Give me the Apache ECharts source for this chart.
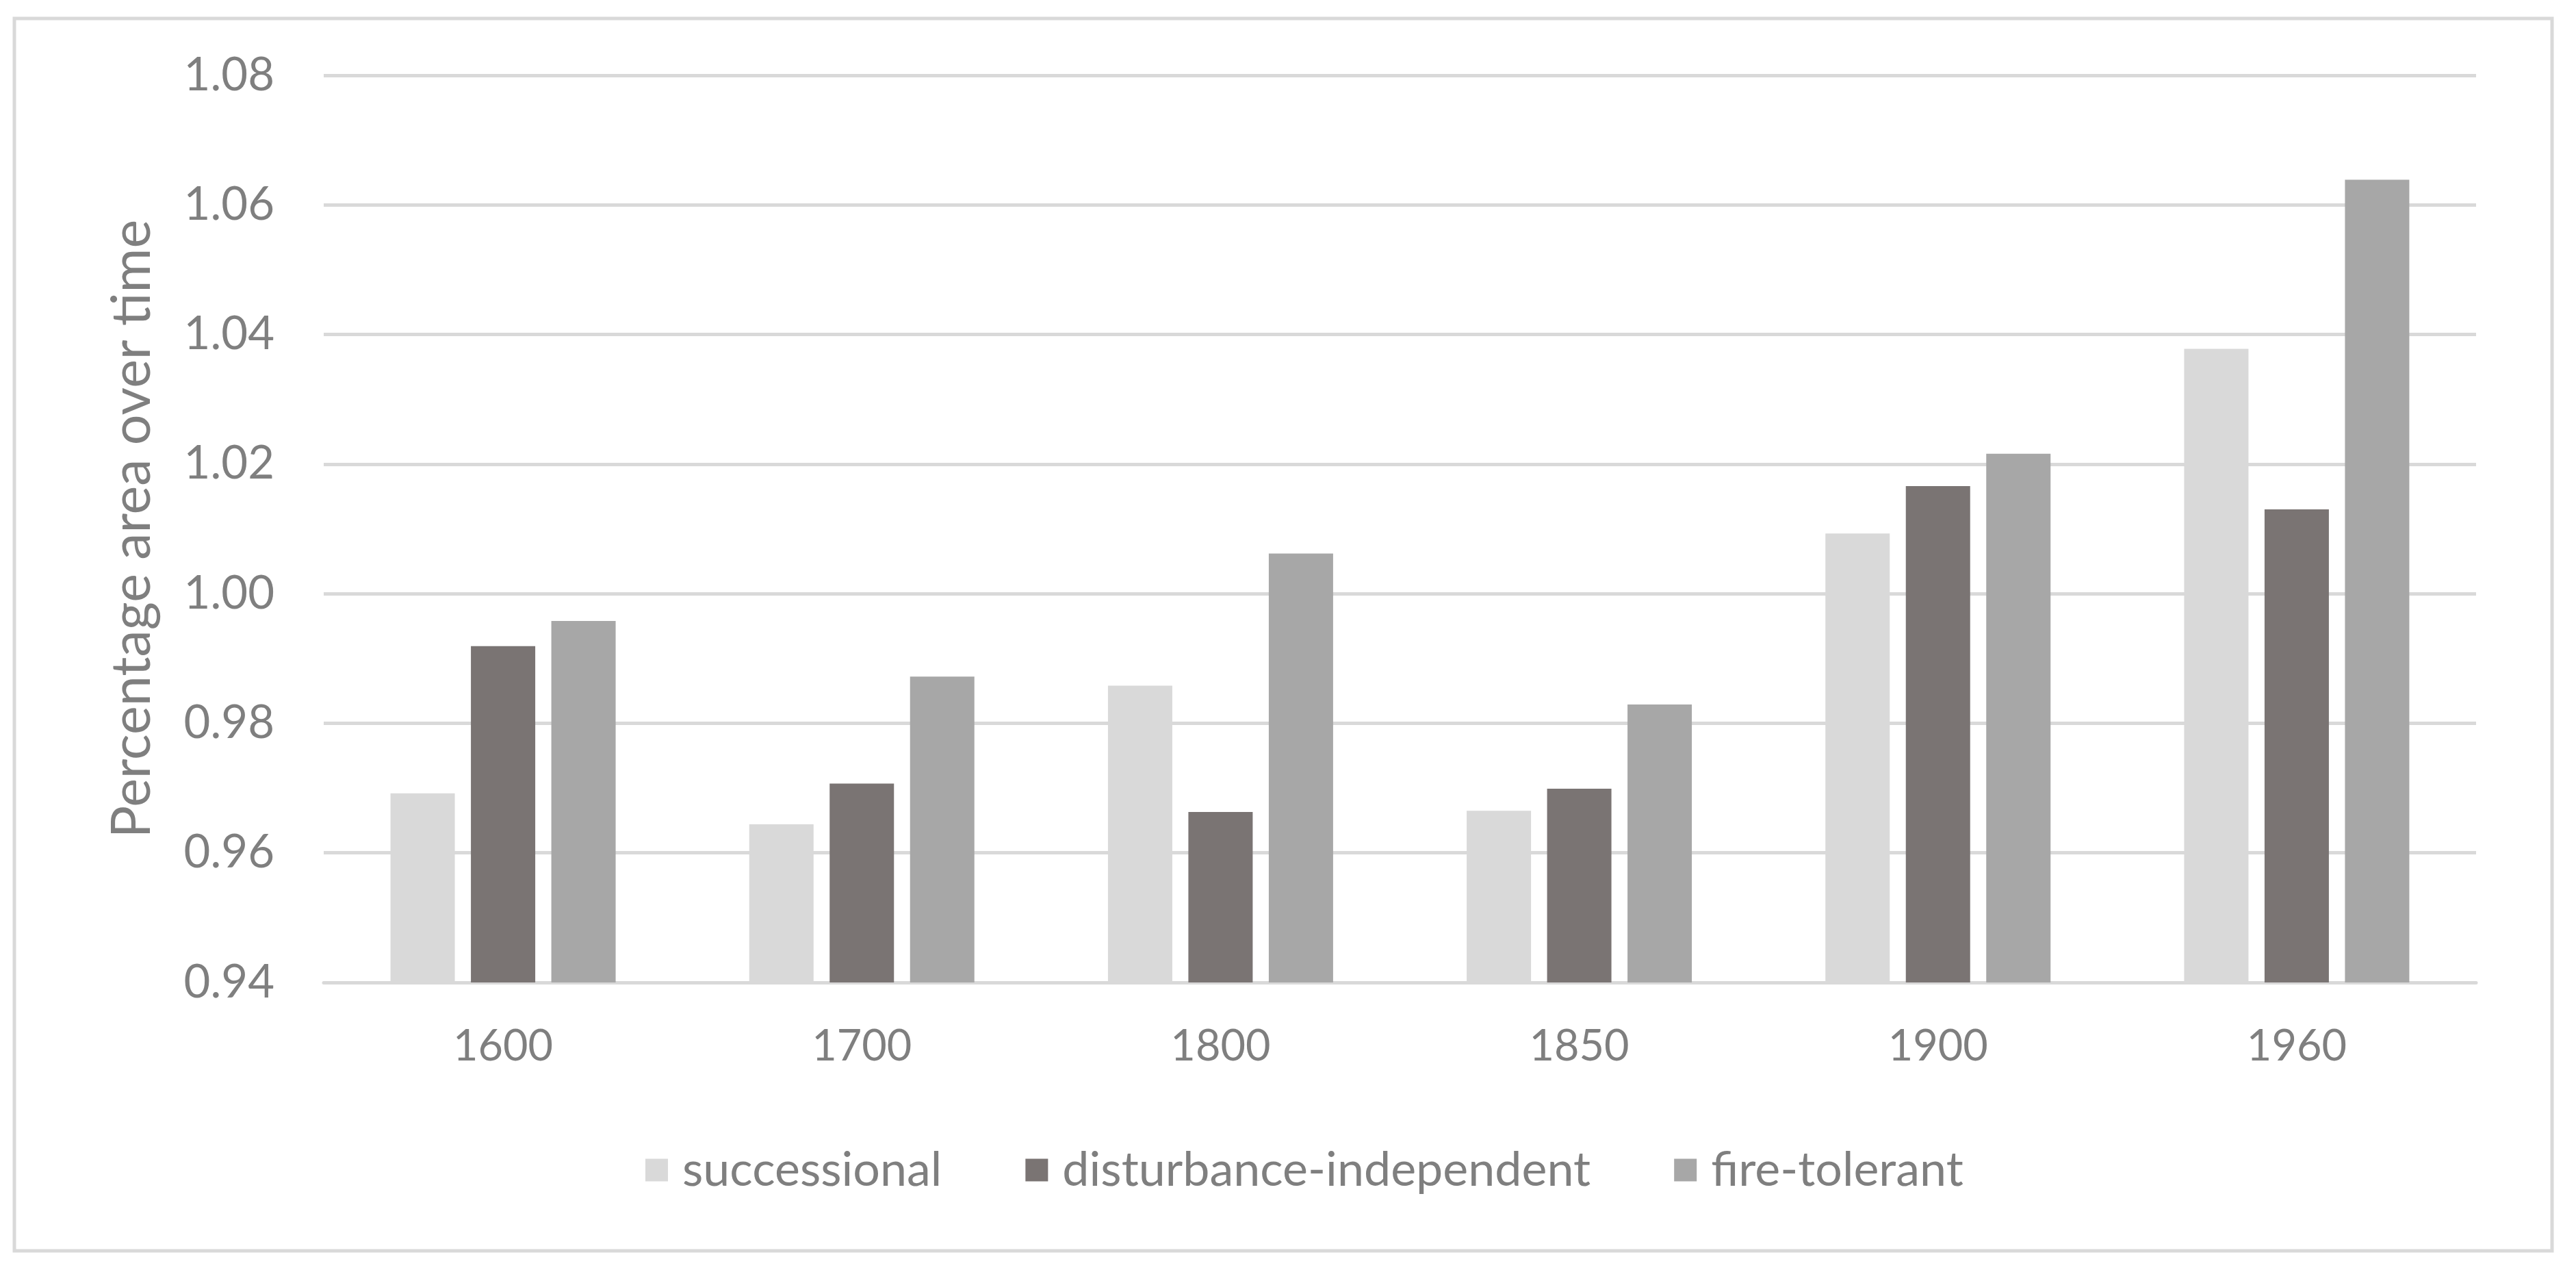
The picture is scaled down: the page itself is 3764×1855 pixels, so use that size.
<!DOCTYPE html>
<html>
<head>
<meta charset="utf-8">
<script src="https://cdn.jsdelivr.net/npm/echarts@6/dist/echarts.min.js"></script>
<style>
html,body{margin:0;padding:0;background:#fff;}
#chart{width:3764px;height:1855px;}
</style>
</head>
<body>
<div id="chart"></div>
<script>
const categories = ['1600', '1700', '1800', '1850', '1900', '1960'];
const successional = [0.9692, 0.9644, 0.9858, 0.9665, 1.0093, 1.0378];
const disturbanceIndependent = [0.9919, 0.9707, 0.9663, 0.9699, 1.0166, 1.0130];
const fireTolerant = [0.9958, 0.9872, 1.0062, 0.9829, 1.0216, 1.0639];
const seriesNames = ['successional', 'disturbance-independent', 'fire-tolerant'];
const yTicks = { min: 0.94, max: 1.08, interval: 0.02 };
const yTitle = 'Percentage area over time';

const FONT = 'Lato';
const TXT = '#7f7f7f';
const chart = echarts.init(document.getElementById('chart'), null, { renderer: 'canvas' });
chart.setOption({
  backgroundColor: '#ffffff',
  animation: false,
  graphic: [{
    type: 'rect',
    shape: { x: 21, y: 27, width: 3708, height: 1800 },
    style: { fill: 'none', stroke: '#d9d9d9', lineWidth: 5 },
    silent: true
  }],
  grid: { left: 473, right: 146, top: 110, bottom: 420, containLabel: false },
  legend: {
    data: seriesNames,
    bottom: 106,
    left: 938,
    itemWidth: 33,
    itemHeight: 33,
    itemGap: 122,
    icon: 'rect',
    textStyle: { fontFamily: FONT, fontSize: 70, color: TXT, padding: [0, 0, 0, 16] }
  },
  xAxis: {
    type: 'category',
    data: categories,
    axisLine: { show: true, lineStyle: { color: '#d9d9d9', width: 5 } },
    axisTick: { show: false },
    axisLabel: { fontFamily: FONT, fontSize: 63, color: TXT, margin: 62 }
  },
  yAxis: {
    type: 'value',
    min: yTicks.min,
    max: yTicks.max,
    interval: yTicks.interval,
    name: yTitle,
    nameLocation: 'middle',
    nameGap: 240,
    nameTextStyle: { fontFamily: FONT, fontSize: 79, color: TXT },
    axisLine: { show: false },
    axisTick: { show: false },
    splitLine: { lineStyle: { color: '#d9d9d9', width: 5 } },
    axisLabel: {
      fontFamily: FONT, fontSize: 67, color: TXT, margin: 72,
      formatter: v => v.toFixed(2)
    }
  },
  series: [
    { name: seriesNames[0], type: 'bar', data: successional, itemStyle: { color: '#d9d9d9' }, barWidth: 94, barGap: '25%' },
    { name: seriesNames[1], type: 'bar', data: disturbanceIndependent, itemStyle: { color: '#7a7473' }, barWidth: 94, barGap: '25%' },
    { name: seriesNames[2], type: 'bar', data: fireTolerant, itemStyle: { color: '#a7a7a7' }, barWidth: 94, barGap: '25%' }
  ]
});
</script>
</body>
</html>
